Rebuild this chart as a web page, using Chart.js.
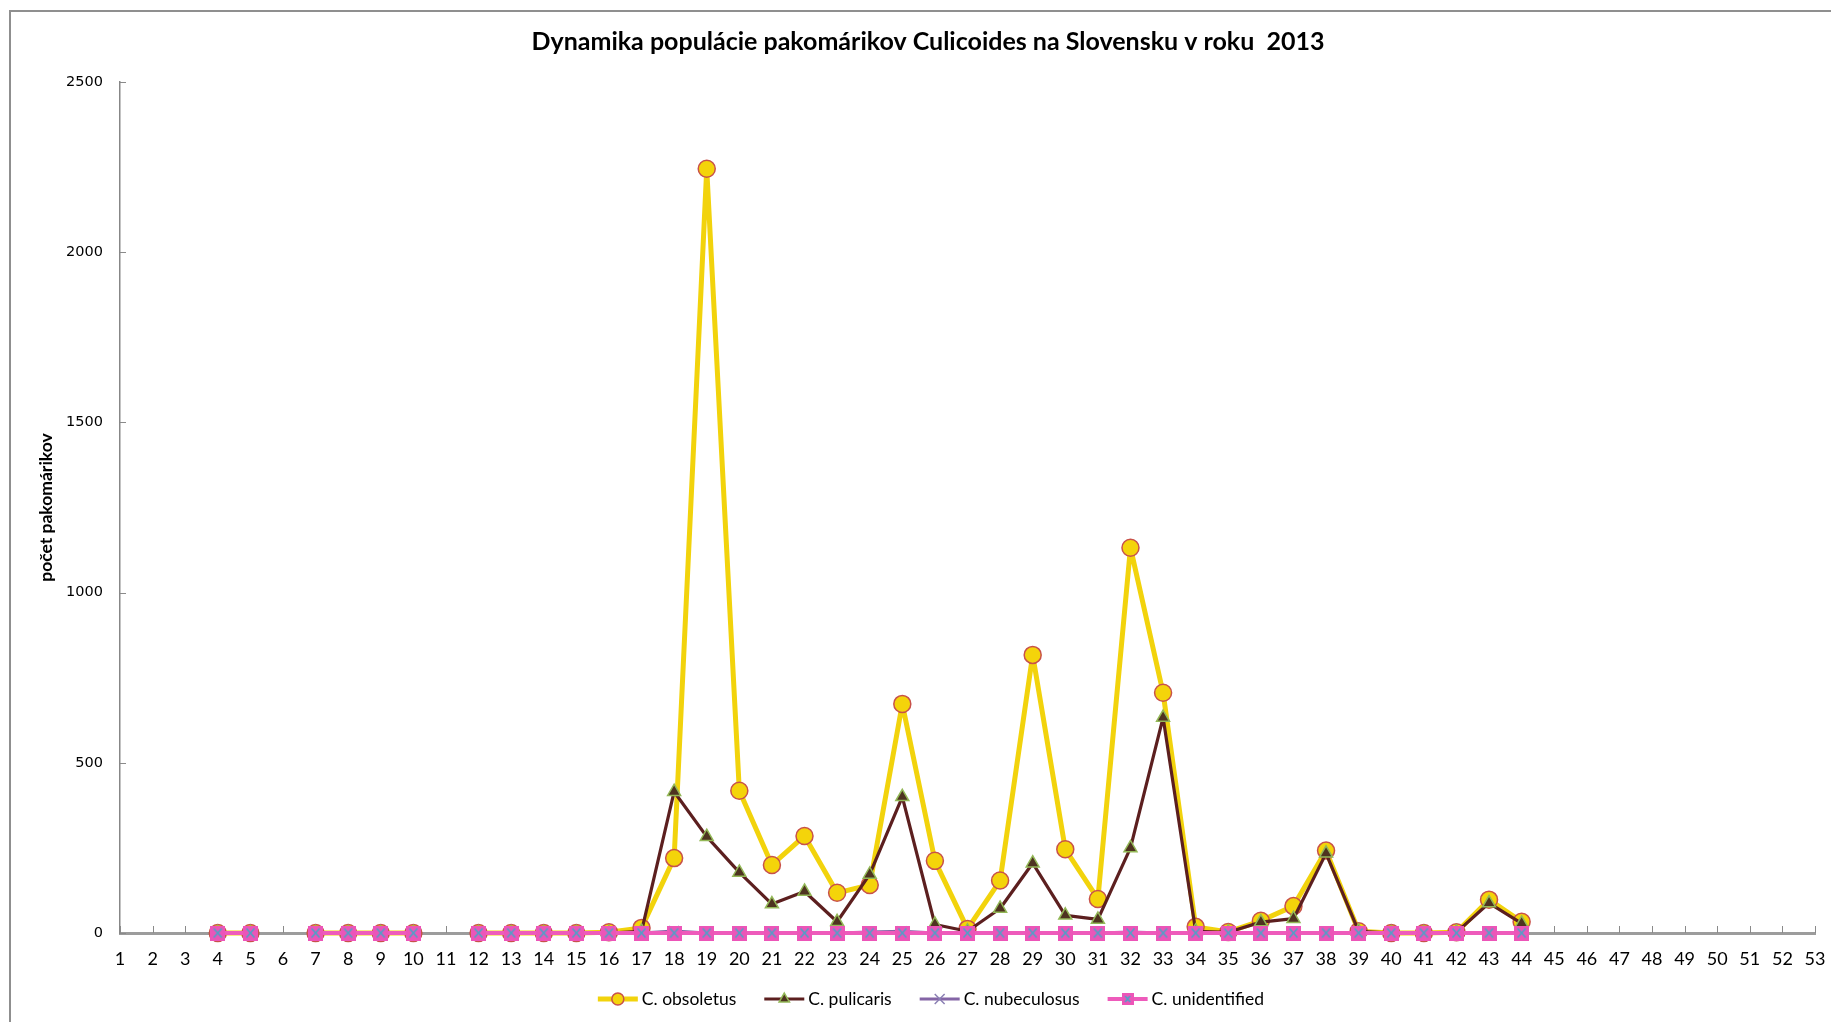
<!DOCTYPE html>
<html>
<head>
<meta charset="utf-8">
<script src="https://cdn.jsdelivr.net/npm/chart.js@4.4.1/dist/chart.umd.min.js"></script>
<style>
  html, body { margin: 0; padding: 0; background: #ffffff; }
  canvas { display: block; }
</style>
</head>
<body>
<canvas id="chart" width="1831" height="1022"></canvas>
<script>
// Calendar weeks 1..53
const weeks = ['1','2','3','4','5','6','7','8','9','10','11','12','13','14','15','16','17','18','19','20',
  '21','22','23','24','25','26','27','28','29','30','31','32','33','34','35','36','37','38','39','40',
  '41','42','43','44','45','46','47','48','49','50','51','52','53'];

// Trapped midges per week (null = no sampling that week)
const obsoletus = [null,null,null,0,0,null,0,0,0,0,null,0,0,0,0,2,15,220,2245,418,
  200,285,118,141,673,212,12,154,817,246,100,1132,706,18,3,36,79,242,5,0,
  0,2,98,33,null,null,null,null,null,null,null,null,null];

const pulicaris = [null,null,null,0,0,null,0,0,0,0,null,0,0,0,0,0,5,415,283,178,
  85,122,33,172,400,25,5,72,205,52,40,250,633,5,2,32,42,234,5,0,
  0,2,88,28,null,null,null,null,null,null,null,null,null];

const nubeculosus = [null,null,null,0,0,null,0,0,0,0,null,0,0,0,0,0,0,6,0,0,
  0,0,0,3,5,0,0,0,0,0,0,3,0,0,0,0,0,0,0,0,
  0,0,0,0,null,null,null,null,null,null,null,null,null];

const unidentified = [null,null,null,0,0,null,0,0,0,0,null,0,0,0,0,0,0,0,0,0,
  0,0,0,0,0,0,0,0,0,0,0,0,0,0,0,0,0,0,0,0,
  0,0,0,0,null,null,null,null,null,null,null,null,null];

const yTicks = [0, 500, 1000, 1500, 2000, 2500];

const chartTitle = 'Dynamika populácie pakomárikov Culicoides na Slovensku v roku  2013';

const TEXT_FONT = "Lato, 'Liberation Sans', sans-serif";

// Square marker with a cross inside for the unidentified series
function makeSquareCross(size, fill, cross) {
  const c = document.createElement('canvas');
  c.width = size; c.height = size;
  const g = c.getContext('2d');
  g.fillStyle = fill;
  g.fillRect(0, 0, size, size);
  g.strokeStyle = cross;
  g.lineWidth = 1.6;
  g.beginPath();
  g.moveTo(3.5, 3); g.lineTo(size - 3.5, size - 3);
  g.moveTo(size - 3.5, 3); g.lineTo(3.5, size - 3);
  g.stroke();
  return c;
}
const squareCross = makeSquareCross(15, '#EC55B8', '#4BA3C8');
const squareCrossSmall = makeSquareCross(12, '#EC55B8', '#4BA3C8');

// White page with a grey frame and the heading
const framePlugin = {
  id: 'frame',
  beforeDraw(chart) {
    const ctx = chart.ctx;
    ctx.save();
    ctx.fillStyle = '#ffffff';
    ctx.fillRect(0, 0, chart.width, chart.height);
    ctx.strokeStyle = '#8f8f8f';
    ctx.lineWidth = 2;
    ctx.strokeRect(10, 11, chart.width + 20, chart.height + 20);
    ctx.fillStyle = '#000000';
    ctx.font = 'bold 25px ' + TEXT_FONT;
    ctx.textAlign = 'center';
    ctx.textBaseline = 'middle';
    ctx.fillText(chartTitle, 928, 42);
    ctx.restore();
  }
};

// Short tick marks pointing into the plot area
const innerTicksPlugin = {
  id: 'innerTicks',
  beforeDatasetsDraw(chart) {
    const ctx = chart.ctx;
    const xs = chart.scales.x, ys = chart.scales.y;
    ctx.save();
    ctx.strokeStyle = '#8a8a8a';
    ctx.lineWidth = 1;
    ctx.beginPath();
    xs.ticks.forEach((t, i) => {
      const px = Math.round(xs.getPixelForTick(i)) + 0.5;
      ctx.moveTo(px, ys.bottom);
      ctx.lineTo(px, ys.bottom - 7);
    });
    ys.ticks.forEach((t, i) => {
      const py = Math.round(ys.getPixelForTick(i)) + 0.5;
      ctx.moveTo(xs.left, py);
      ctx.lineTo(xs.left + 6, py);
    });
    ctx.stroke();
    ctx.restore();
  }
};

// Legend row: line sample with its marker, then the series name
const legendRowPlugin = {
  id: 'legendRow',
  afterDraw(chart) {
    const ctx = chart.ctx;
    const sets = chart.data.datasets;
    const sample = 40, gap = 4, spacing = 28;
    const cx = 931, cy = 999;
    ctx.save();
    ctx.font = '17.5px ' + TEXT_FONT;
    const widths = sets.map(ds => sample + gap + ctx.measureText(ds.label).width);
    const total = widths.reduce((a, b) => a + b, 0) + spacing * (sets.length - 1);
    let x = cx - total / 2;
    sets.forEach((ds, i) => {
      ctx.strokeStyle = ds.borderColor;
      ctx.lineWidth = ds.borderWidth;
      ctx.beginPath();
      ctx.moveTo(x, cy);
      ctx.lineTo(x + sample, cy);
      ctx.stroke();
      ctx.fillStyle = ds.pointBackgroundColor;
      ctx.strokeStyle = ds.pointBorderColor;
      ctx.lineWidth = ds.pointBorderWidth;
      const style = ds.legendPointStyle || ds.pointStyle;
      Chart.helpers.drawPoint(ctx, {
        pointStyle: style,
        radius: ds.legendRadius,
        rotation: 0,
        borderWidth: ds.pointBorderWidth
      }, x + sample / 2, cy);
      ctx.fillStyle = '#000000';
      ctx.textAlign = 'left';
      ctx.textBaseline = 'middle';
      ctx.fillText(ds.label, x + sample + gap, cy);
      x += widths[i] + spacing;
    });
    ctx.restore();
  }
};

new Chart(document.getElementById('chart'), {
  type: 'line',
  data: {
    labels: weeks,
    datasets: [
      {
        label: 'C. obsoletus',
        data: obsoletus,
        order: 4,
        borderColor: '#F2D30C',
        borderWidth: 5,
        borderJoinStyle: 'round',
        pointStyle: 'circle',
        pointRadius: 8.5,
        pointBackgroundColor: '#F4D40A',
        pointBorderColor: '#C8514A',
        pointBorderWidth: 1.5,
        legendRadius: 6,
        clip: false
      },
      {
        label: 'C. pulicaris',
        data: pulicaris,
        order: 3,
        borderColor: '#5C1F1F',
        borderWidth: 3.2,
        borderJoinStyle: 'round',
        pointStyle: 'triangle',
        pointRadius: 7.5,
        pointBackgroundColor: '#4E3320',
        pointBorderColor: '#93B857',
        pointBorderWidth: 1.5,
        legendRadius: 6,
        clip: false
      },
      {
        label: 'C. nubeculosus',
        data: nubeculosus,
        order: 2,
        borderColor: '#8465A6',
        borderWidth: 3,
        pointStyle: 'crossRot',
        pointRadius: 7,
        pointBackgroundColor: '#8465A6',
        pointBorderColor: '#8A7FB3',
        pointBorderWidth: 1.5,
        legendRadius: 7,
        clip: false
      },
      {
        label: 'C. unidentified',
        data: unidentified,
        order: 1,
        borderColor: '#EE5BBB',
        borderWidth: 4,
        pointStyle: squareCross,
        legendPointStyle: squareCrossSmall,
        pointRadius: 7.5,
        pointBackgroundColor: '#EC55B8',
        pointBorderColor: '#EC55B8',
        pointBorderWidth: 0,
        legendRadius: 6,
        clip: false
      }
    ]
  },
  options: {
    responsive: false,
    animation: false,
    spanGaps: false,
    elements: { line: { tension: 0 } },
    layout: { padding: { left: 0, right: 16, top: 82, bottom: 49 } },
    plugins: {
      legend: { display: false },
      tooltip: { enabled: false },
      title: { display: false }
    },
    scales: {
      x: {
        type: 'category',
        offset: false,
        grid: { display: true, drawOnChartArea: false, drawTicks: false },
        border: { display: true, color: '#9c9c9c', width: 3 },
        ticks: {
          autoSkip: false,
          maxRotation: 0,
          color: '#000000',
          padding: 15,
          font: { family: TEXT_FONT, size: 18 }
        },
        afterFit(scale) {
          scale.height = 40;
          scale.paddingLeft = 0;
          scale.paddingRight = 0;
        }
      },
      y: {
        min: 0,
        max: 2500,
        afterBuildTicks(scale) { scale.ticks = yTicks.map(v => ({ value: v })); },
        grid: { display: true, drawOnChartArea: false, drawTicks: false },
        border: { display: true, color: '#878787', width: 1.5 },
        ticks: {
          color: '#000000',
          padding: 17,
          font: { family: "'DejaVu Sans', Verdana, sans-serif", size: 14.5 },
          callback: (value) => String(value)
        },
        title: {
          display: true,
          text: 'počet pakomárikov',
          color: '#000000',
          font: { family: TEXT_FONT, size: 17.5, weight: 'bold' },
          padding: { top: 36, bottom: 0 }
        },
        afterFit(scale) {
          scale.width = 120;
          scale.paddingTop = 0;
          scale.paddingBottom = 0;
        }
      }
    }
  },
  plugins: [framePlugin, innerTicksPlugin, legendRowPlugin]
});
</script>
</body>
</html>
